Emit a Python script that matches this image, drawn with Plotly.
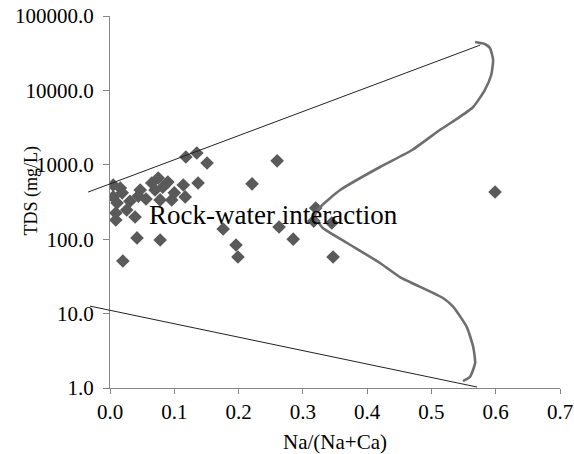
import plotly.graph_objects as go

# ---- data ----
na_ratio = [0.005, 0.016, 0.005, 0.019, 0.011, 0.009, 0.009, 0.026, 0.031, 0.039,
            0.047, 0.044, 0.056, 0.065, 0.075, 0.070, 0.082, 0.090, 0.078, 0.096,
            0.100, 0.114, 0.117, 0.137, 0.118, 0.135, 0.151, 0.260, 0.221, 0.042,
            0.078, 0.020, 0.176, 0.196, 0.199, 0.263, 0.285, 0.320, 0.317, 0.345,
            0.347, 0.599]
tds = [535, 488, 370, 420, 307, 225, 181, 247, 324, 199,
       459, 380, 347, 569, 665, 459, 500, 585, 337, 337,
       420, 535, 370, 569, 1273, 1442, 1057, 1130, 555, 104,
       97.5, 51, 137, 83.6, 57.7, 146, 100, 263, 175, 165,
       57.7, 431]

# Gibbs boundary curve
curve_x = [0.568, 0.583, 0.591, 0.596, 0.593, 0.583, 0.565, 0.537, 0.513, 0.470,
           0.420, 0.358, 0.327, 0.319, 0.324, 0.331, 0.369, 0.420, 0.451, 0.518,
           0.534, 0.555, 0.565, 0.568, 0.560, 0.549]
curve_y = [44750, 42050, 37150, 25630, 16110, 10120, 5980, 4000, 2937, 1581,
           934, 458, 271, 211, 170, 141.5, 88.9, 47.9, 31.0, 16.2,
           12.3, 6.61, 3.56, 2.17, 1.41, 1.24]

# straight envelope lines
upper_x = [-0.034, 0.576]
upper_y = [430, 40700]
lower_x = [-0.031, 0.571]
lower_y = [12.6, 1.03]

x_ticks = [0.0, 0.1, 0.2, 0.3, 0.4, 0.5, 0.6, 0.7]
x_ticktext = ["0.0", "0.1", "0.2", "0.3", "0.4", "0.5", "0.6", "0.7"]
y_ticks = [1, 10, 100, 1000, 10000, 100000]
y_ticktext = ["1.0", "10.0", "100.0", "1000.0", "10000.0", "100000.0"]

FONT = "Liberation Serif, Times New Roman, serif"
AX = "#868686"

# layout geometry
ML, MR, MT, MB = 80, 14, 16, 66
W, H = 574, 454
x_main = [0.0, 0.7]
x_ext = [-0.04, 0.7]
d0 = 30 / (W - ML - MR)
per_unit = (1 - d0) / (x_main[1] - x_main[0])
d0_ext = d0 - (x_main[0] - x_ext[0]) * per_unit

fig = go.Figure()

fig.add_trace(go.Scatter(
    x=na_ratio, y=tds, mode="markers",
    marker=dict(symbol="diamond", size=10.5, color="#5a5a5a", line=dict(width=0)),
    xaxis="x", yaxis="y", showlegend=False))

fig.add_trace(go.Scatter(
    x=curve_x, y=curve_y, mode="lines",
    line=dict(color="#6e6e6e", width=2.6, shape="spline", smoothing=0.5),
    xaxis="x", yaxis="y", showlegend=False))

fig.add_trace(go.Scatter(
    x=upper_x, y=upper_y, mode="lines",
    line=dict(color="#222222", width=1),
    xaxis="x2", yaxis="y", showlegend=False))
fig.add_trace(go.Scatter(
    x=lower_x, y=lower_y, mode="lines",
    line=dict(color="#222222", width=1),
    xaxis="x2", yaxis="y", showlegend=False))

fig.update_layout(
    width=W, height=H,
    margin=dict(l=ML, r=MR, t=MT, b=MB, autoexpand=False),
    paper_bgcolor="white", plot_bgcolor="rgba(0,0,0,0)",
    font=dict(family=FONT, color="black"),
    xaxis=dict(domain=[d0, 1], range=x_main, anchor="y", automargin=False,
               tickvals=x_ticks, ticktext=x_ticktext, ticklabeloverflow="allow",
               showgrid=False, zeroline=False, showline=True, linecolor=AX, linewidth=1,
               ticks="outside", ticklen=5, tickcolor=AX,
               tickfont=dict(family=FONT, size=21, color="black"),
               title=dict(text="Na/(Na+Ca)", font=dict(family=FONT, size=21, color="black"),
                          standoff=11)),
    xaxis2=dict(domain=[d0_ext, 1], range=x_ext, anchor="y", visible=False,
                automargin=False, showgrid=False, zeroline=False),
    yaxis=dict(type="log", range=[0, 5], anchor="x", automargin=False,
               tickvals=y_ticks, ticktext=y_ticktext, ticklabeloverflow="allow",
               showgrid=False, zeroline=False, showline=True, linecolor=AX, linewidth=1,
               ticks="outside", ticklen=6, tickcolor=AX, ticklabelstandoff=5,
               tickfont=dict(family=FONT, size=21, color="black")),
    annotations=[
        dict(text="TDS (mg/L)", textangle=-90, xref="paper", yref="paper",
             x=-0.127, y=0.5296, showarrow=False,
             font=dict(family=FONT, size=18, color="black")),
        dict(text="Rock-water interaction", xref="x", yref="y",
             x=0.254, y=2.325, showarrow=False,
             font=dict(family=FONT, size=27, color="black")),
    ],
)

fig.write_html("out.html", config={"displayModeBar": False},
               post_script="document.body.style.margin='0px';")
